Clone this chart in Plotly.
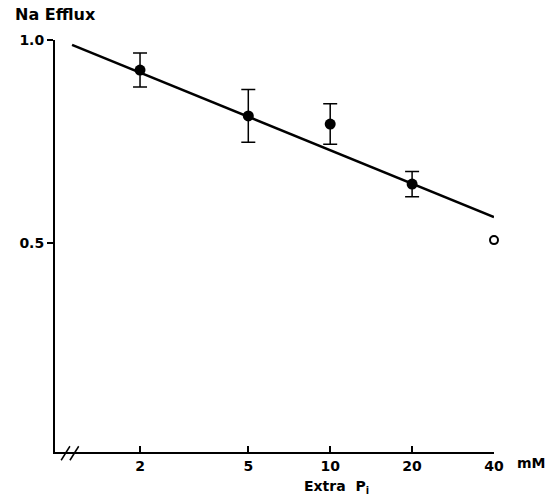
import plotly.graph_objects as go
import math

# Data
conc = [2, 5, 10, 20]
efflux = [0.926, 0.813, 0.793, 0.645]
err = [0.042, 0.065, 0.05, 0.031]
open_conc = [40]
open_efflux = [0.507]
fit_x = [1.125, 40]
fit_y = [0.988, 0.564]
tick_vals = [2, 5, 10, 20, 40]
tick_text = ["2", "5", "10", "20", "40"]

FONT = dict(family="'DejaVu Sans', sans-serif", size=14, color="black", weight="bold")
TITLE_FONT = dict(FONT, size=16)

fig = go.Figure()
fig.add_trace(go.Scatter(x=fit_x, y=fit_y, mode="lines",
                         line=dict(color="black", width=2.5), cliponaxis=False, showlegend=False))
fig.add_trace(go.Scatter(x=conc, y=efflux, mode="markers",
                         marker=dict(color="black", size=11),
                         error_y=dict(type="data", array=err, visible=True, color="black",
                                      thickness=1.5, width=7),
                         cliponaxis=False, showlegend=False))
fig.add_trace(go.Scatter(x=open_conc, y=open_efflux, mode="markers",
                         marker=dict(color="white", size=8, line=dict(color="black", width=2)),
                         cliponaxis=False, showlegend=False))

fig.update_layout(
    width=547, height=498,
    margin=dict(l=55, r=53, t=40, b=46, autoexpand=False),
    plot_bgcolor="white", paper_bgcolor="white",
    font=FONT,
    xaxis=dict(type="log", range=[-0.0115, math.log10(40)], showgrid=False, zeroline=False,
               showline=True, linecolor="black", linewidth=2,
               ticks="inside", ticklen=6, tickwidth=2, tickcolor="black",
               tickvals=tick_vals, ticktext=tick_text, tickfont=FONT),
    yaxis=dict(range=[-0.015, 1.0], showgrid=False, zeroline=False,
               showline=True, linecolor="black", linewidth=2,
               ticks="outside", ticklen=6, tickwidth=2, tickcolor="black",
               tickvals=[0.5, 1.0], ticktext=["0.5", "1.0"], tickfont=FONT),
    annotations=[
        dict(text="Na Efflux", xref="paper", yref="paper", x=-0.095, y=1.061,
             xanchor="left", yanchor="middle", showarrow=False, font=TITLE_FONT),
        dict(text="mM", xref="paper", yref="paper", x=1, y=-0.027, xanchor="left", yanchor="middle",
             xshift=21, showarrow=False, font=FONT),
        dict(text="Extra  P<sub>i</sub>", xref="paper", yref="paper", x=0.642, y=-0.085,
             xanchor="center", yanchor="middle", showarrow=False, font=FONT),
    ],
    shapes=[
        dict(type="line", xref="paper", yref="paper", x0=0.014, y0=-0.02, x1=0.034, y1=0.014,
             line=dict(color="black", width=1.5)),
        dict(type="line", xref="paper", yref="paper", x0=0.034, y0=-0.02, x1=0.054, y1=0.014,
             line=dict(color="black", width=1.5)),
    ],
)

fig.write_html("out.html", config={"displayModeBar": False},
               post_script="document.body.style.margin='0';document.body.style.overflow='hidden';")
